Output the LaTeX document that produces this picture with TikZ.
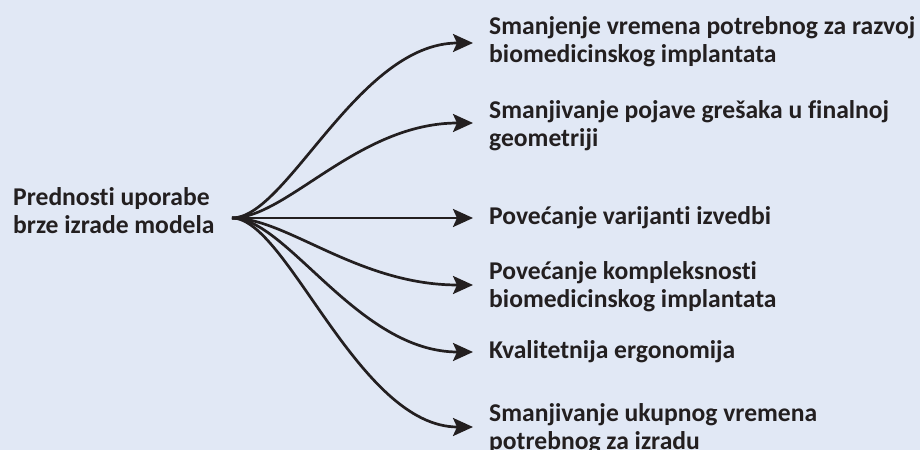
\documentclass[tikz,border=0pt]{standalone}
\usepackage{fontspec}
\setmainfont{Carlito}[Ligatures=NoCommon]
\usetikzlibrary{arrows.meta}
\definecolor{panel}{RGB}{225,232,245}
\definecolor{ink}{RGB}{35,31,32}
\tikzset{
  branch/.style={draw=ink,line width=2.7bp,-{Stealth[length=20bp,width=18bp,inset=4bp]}},
  lbl/.style={anchor=base west,align=left,inner sep=0pt,text=ink,font=\bfseries\fontsize{25.6bp}{28bp}\selectfont}
}
\begin{document}
\begin{tikzpicture}[x=1bp,y=-1bp]
    \fill[panel] (0,0) rectangle (920,450);
    \useasboundingbox (0,0) rectangle (920,450);
    % base = baseline of the last line
    \node[lbl] at (13,234) (izvor) {Prednosti uporabe\\brze izrade modela};
    \coordinate (src) at (232,218);
    \foreach \y/\base/\txt [count=\i] in {
        43/63/{Smanjenje vremena potrebnog za razvoj\\biomedicinskog implantata},
        123/147/{Smanjivanje pojave grešaka u finalnoj\\geometriji},
        218/225/{Povećanje varijanti izvedbi},
        285/308/{Povećanje kompleksnosti\\biomedicinskog implantata},
        352/359/{Kvalitetnija ergonomija},
        427/449/{Smanjivanje ukupnog vremena\\potrebnog za izradu}}{
        \coordinate (tip\i) at (473,\y);
        \node[lbl] at (489,\base) (cilj\i) {\txt};
        \path[branch] (src) .. controls +(55,0) and +(-115,0) .. (tip\i);
    }
\end{tikzpicture}
\end{document}
